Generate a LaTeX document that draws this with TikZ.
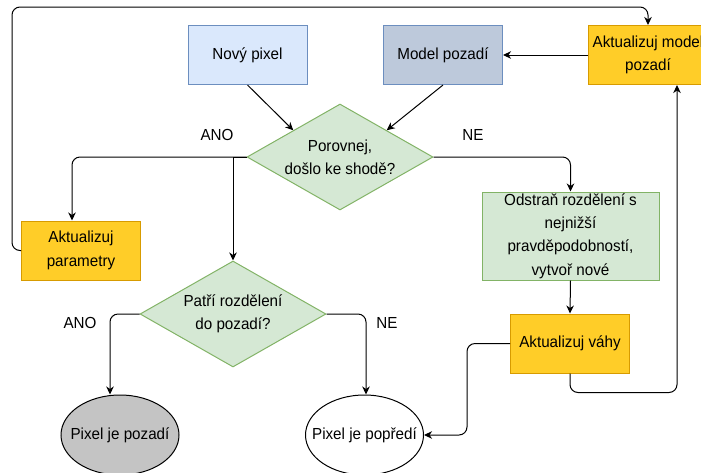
\documentclass[tikz,border=0pt]{standalone}
\usepackage{fontspec}
\setmainfont{Liberation Sans}[FakeStretch=0.95]
\usetikzlibrary{shapes.geometric,arrows.meta,calc}

\definecolor{blueFill}{HTML}{DAE8FC}
\definecolor{blueLine}{HTML}{6C8EBF}
\definecolor{slateFill}{HTML}{BDC9DB}
\definecolor{yellowFill}{HTML}{FFCD28}
\definecolor{yellowLine}{HTML}{D79B00}
\definecolor{greenFill}{HTML}{D5E8D4}
\definecolor{greenLine}{HTML}{82B366}
\definecolor{grayFill}{HTML}{C4C4C4}

\tikzset{
  txt/.style={font=\fontsize{16}{23.3}\selectfont, align=center, text=black},
  box/.style={txt, rectangle, line width=1pt, inner sep=0pt,
              minimum width=119pt, minimum height=59pt},
  inputbox/.style={box, fill=blueFill, draw=blueLine},
  modelbox/.style={box, fill=slateFill, draw=blueLine},
  actionbox/.style={box, fill=yellowFill, draw=yellowLine},
  greenbox/.style={box, fill=greenFill, draw=greenLine},
  decision/.style={txt, diamond, aspect=1.75, fill=greenFill, draw=greenLine,
                   line width=1pt, inner sep=0pt,
                   minimum width=186pt, minimum height=106pt},
  result/.style={txt, ellipse, draw=black, line width=1pt,
                 inner xsep=-16pt, inner ysep=0pt,
                 minimum width=118pt, minimum height=80pt},
  flow/.style={draw=black, line width=1pt, rounded corners=8pt,
               -{Stealth[length=8pt,width=7.5pt,inset=2.5pt]}},
  lbl/.style={txt, inner sep=0pt}
}

\begin{document}
\begin{tikzpicture}[x=1pt, y=-1pt]
  \useasboundingbox (0,0) rectangle (701,472);
  \clip (0,0) rectangle (701,472);

  % nodes
  \node[inputbox]  (nov)  at (247.5,55)  {Nový pixel};
  \node[modelbox]  (mod)  at (443,55)    {Model pozadí};
  \node[actionbox] (amod) at (648,55)    {Aktualizuj model\\pozadí};
  \node[decision]  (d1)   at (340,157)   {Porovnej,\\došlo ke shodě?};
  \node[actionbox] (apar) at (81,250.5)  {Aktualizuj\\parametry};
  \node[greenbox, minimum width=177pt, minimum height=88pt]
                   (ods)  at (570.5,236) {Odstraň rozdělení s\\nejnižší\\pravděpodobností,\\vytvoř nové};
  \node[decision]  (d2)   at (233,314)   {Patří rozdělení\\do pozadí?};
  \node[actionbox] (vahy) at (570,343.5) {Aktualizuj váhy};
  \node[result, fill=grayFill] (e1) at (120,435)   {Pixel je pozadí};
  \node[result, fill=white]    (e2) at (364.5,435) {Pixel je popředí};

  % branch labels
  \node[lbl] (ano1) at (217,135) {ANO};
  \node[lbl] (ne1)  at (473,135) {NE};
  \node[lbl] (ano2) at (80,323)  {ANO};
  \node[lbl] (ne2)  at (387,323) {NE};

  % connectors
  \draw[flow] (nov.south) -- (d1.north west);
  \draw[flow] (mod.south) -- (d1.north east);
  \draw[flow] (amod.west) -- (mod.east);
  \draw[flow] (d1.west) -| ([xshift=-9pt]apar.north);
  \draw[flow, rounded corners=0pt] (d1.west) -| (d2.north);
  \draw[flow] (d1.east) -| (ods.north);
  \draw[flow] (ods.south) -- (vahy.north);
  \draw[flow] (vahy.south) -- ++(0,19) -| ([xshift=29pt]amod.south);
  \draw[flow] (vahy.west) -- ++(-43,0) |- (e2.east);
  \draw[flow] (apar.west) -- ++(-9,0) |- ($(amod.north)+(0,-18)$) -- (amod.north);
  \draw[flow] (d2.west) -| ([xshift=-10pt]e1.north);
  \draw[flow] (d2.east) -| ([xshift=1.5pt]e2.north);
\end{tikzpicture}
\end{document}
